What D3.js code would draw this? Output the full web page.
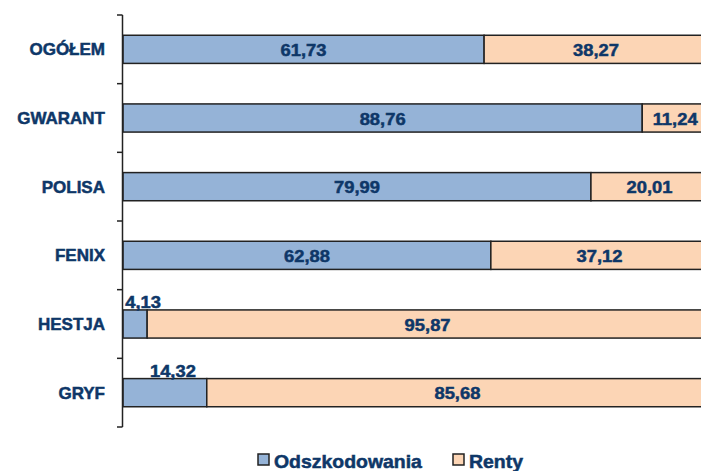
<!DOCTYPE html>
<html>
<head>
<meta charset="utf-8">
<script src="https://cdn.jsdelivr.net/npm/d3@7"></script>
<style>
  html, body { margin: 0; padding: 0; background: #fff; overflow: hidden; }
  svg text { font-family: "Liberation Sans", Arial, sans-serif; font-weight: bold; fill: #0E3768; stroke: #0E3768; stroke-width: 0.5px; }
</style>
</head>
<body>
<div id="chart"></div>
<script>
// data
var categories = ["OGÓŁEM", "GWARANT", "POLISA", "FENIX", "HESTJA", "GRYF"]
var odszkodowania = [61.73, 88.76, 79.99, 62.88, 4.13, 14.32]
var renty = [38.27, 11.24, 20.01, 37.12, 95.87, 85.68]
var seriesNames = ["Odszkodowania", "Renty"]
var colors = ["#95B3D7", "#FCD5B5"]

var width = 701, height = 471

var svg = d3.select("#chart").append("svg")
	.attr("width", width)
	.attr("height", height)

var x = d3.scaleLinear()
	.domain([0, 100])
	.range([123, 708])

var y = d3.scaleBand()
	.domain(categories)
	.range([15, 427])
	.paddingInner(0.59)
	.paddingOuter(0.295)

var fmt = function(v) { return d3.format(".2f")(v).replace(".", ",") }

var rows = categories.map(function(c, i) {
	return { cat: c, a: odszkodowania[i], b: renty[i] }
})

// bars
var g = svg.append("g")

rows.forEach(function(d) {
	g.append("rect")
		.attr("x", x(0))
		.attr("y", y(d.cat))
		.attr("width", x(d.a) - x(0))
		.attr("height", y.bandwidth())
		.attr("fill", colors[0])
		.attr("stroke", "#222")
		.attr("stroke-width", 1.5)

	g.append("rect")
		.attr("x", x(d.a))
		.attr("y", y(d.cat))
		.attr("width", x(d.a + d.b) - x(d.a))
		.attr("height", y.bandwidth())
		.attr("fill", colors[1])
		.attr("stroke", "#222")
		.attr("stroke-width", 1.5)
})

// value labels
function valueLabel(val, x0, x1, cat) {
	var cx = (x0 + x1) / 2
	var cy = y(cat) + y.bandwidth() / 2 + 6.5
	// small blue segments get their label above the bar
	if (val < 15 && x0 == x(0)) {
		cy = y(cat) - 2
		cx = cx + 8
	}
	g.append("text")
		.attr("transform", "translate(" + cx + "," + cy + ") scale(1.08,1)")
		.attr("text-anchor", "middle")
		.style("font-size", "17px")
		.text(fmt(val))
}

rows.forEach(function(d) {
	valueLabel(d.a, x(0), x(d.a), d.cat)
	valueLabel(d.b, x(d.a), x(d.a + d.b), d.cat)
})

// axis
var step = y.step()
var axisG = svg.append("g")
axisG.append("line")
	.attr("x1", 122.5).attr("x2", 122.5)
	.attr("y1", y.range()[0]).attr("y2", y.range()[1])
	.attr("stroke", "#222")
	.attr("stroke-width", 1.5)

d3.range(categories.length + 1).forEach(function(i) {
	var ty = y(categories[0]) - y.paddingInner() * step / 2 + i * step
	axisG.append("line")
		.attr("x1", 117).attr("x2", 122.5)
		.attr("y1", ty).attr("y2", ty)
		.attr("stroke", "#222")
		.attr("stroke-width", 1.5)
})

categories.forEach(function(c) {
	axisG.append("text")
		.attr("x", 105)
		.attr("y", y(c) + y.bandwidth() / 2 + 6)
		.attr("text-anchor", "end")
		.style("font-size", "17px")
		.text(c)
})

// legend
var legendX = [258, 453]
var legend = svg.append("g")
seriesNames.forEach(function(s, i) {
	legend.append("rect")
		.attr("x", legendX[i])
		.attr("y", 454)
		.attr("width", 11)
		.attr("height", 11)
		.attr("fill", colors[i])
		.attr("stroke", "#222")
		.attr("stroke-width", 1.5)
	legend.append("text")
		.attr("transform", "translate(" + (legendX[i] + 16) + ",468) scale(1.08,1)")
		.style("font-size", "18px")
		.text(s)
})
</script>
</body>
</html>
